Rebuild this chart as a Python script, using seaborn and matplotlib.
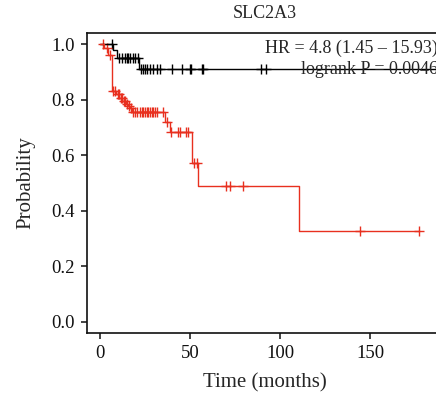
import numpy as np
import pandas as pd
import matplotlib
matplotlib.use("Agg")
import matplotlib.pyplot as plt
import seaborn as sns

# Kaplan-Meier step estimates
low_times = [0, 7.2, 9.4, 21.8, 195]
low_surv = [1.0, 0.978, 0.95, 0.909, 0.909]
low_censor = [6.7, 10.3, 12.2, 13.9, 15.0, 15.6, 16.7, 18.3, 19.4, 21.1, 22.8, 23.9,
              25.0, 26.1, 27.8, 29.4, 31.7, 33.3, 40.0, 45.6, 50.0, 50.6, 56.7, 57.2,
              89.4, 92.2]

high_times = [0, 2.2, 4.4, 6.7, 9.0, 10.8, 12.5, 14.2, 15.4, 16.5, 17.6, 36.1, 38.9,
              50.9, 54.3, 110.7, 177]
high_surv = [1.0, 0.985, 0.96, 0.83, 0.82, 0.806, 0.795, 0.785, 0.778, 0.77, 0.756,
             0.72, 0.685, 0.571, 0.491, 0.327, 0.327]
high_censor = [1.7, 3.9, 5.6, 7.5, 8.2, 9.8, 10.3, 11.6, 12.0, 13.3, 14.0, 15.0, 16.1,
               17.2, 18.1, 19.4, 20.7, 22.2, 23.1, 24.1, 25.0, 25.9, 26.8, 27.8, 28.7,
               29.6, 30.6, 31.5, 35.0, 37.5, 39.4, 43.3, 44.4, 47.8, 48.9, 52.2, 53.9,
               70.0, 72.2, 79.4, 144.4, 177.0]

title = "SLC2A3"
hr_text = "HR = 4.8 (1.45 \u2013 15.93)"
p_text = "logrank P = 0.0046"

RED = "#e8301f"


def censor_points(times, surv, cens):
    """Survival value at each censor time (step lookup)"""
    idx = np.searchsorted(np.array(times), np.array(cens), side="right") - 1
    return pd.DataFrame({"t": cens, "s": np.array(surv)[idx]})


sns.set_style("ticks")
plt.rcParams["font.family"] = ["Liberation Serif", "DejaVu Serif"]

fig = plt.figure(figsize=(4.36, 4.0), dpi=100)
ax = fig.add_axes([87 / 436, 67 / 400, 356 / 436, 300 / 400])

for times, surv, cens, col in [(low_times, low_surv, low_censor, "black"),
                               (high_times, high_surv, high_censor, RED)]:
    df = pd.DataFrame({"t": times, "s": surv})
    sns.lineplot(data=df, x="t", y="s", ax=ax, color=col, lw=1.0,
                 drawstyle="steps-post", estimator=None, sort=False)
    cdf = censor_points(times, surv, cens)
    sns.scatterplot(data=cdf, x="t", y="s", ax=ax, color=col, marker="+",
                    s=45, linewidth=1.0)

ax.set_xlim(-7.2, 190.5)
ax.set_ylim(-0.04, 1.04)
ax.set_xticks([0, 50, 100, 150])
ax.set_yticks([0.0, 0.2, 0.4, 0.6, 0.8, 1.0])
ax.set_yticklabels(["0.0", "0.2", "0.4", "0.6", "0.8", "1.0"])
ax.tick_params(labelsize=13.5, length=4, width=1.1, pad=5, colors="#111111")
for sp in ax.spines.values():
    sp.set_linewidth(1.2)
    sp.set_color("#111111")

ax.set_xlabel("Time (months)", fontsize=15, labelpad=8)
ax.set_ylabel("Probability", fontsize=15, labelpad=11)
ax.set_title(title, fontsize=13, pad=11)

ax.text(0.985, 0.95, hr_text, transform=ax.transAxes, ha="right", va="center",
        fontsize=13)
ax.text(0.985, 0.88, p_text, transform=ax.transAxes, ha="right", va="center",
        fontsize=13)

fig.savefig("out.png", dpi=100)
